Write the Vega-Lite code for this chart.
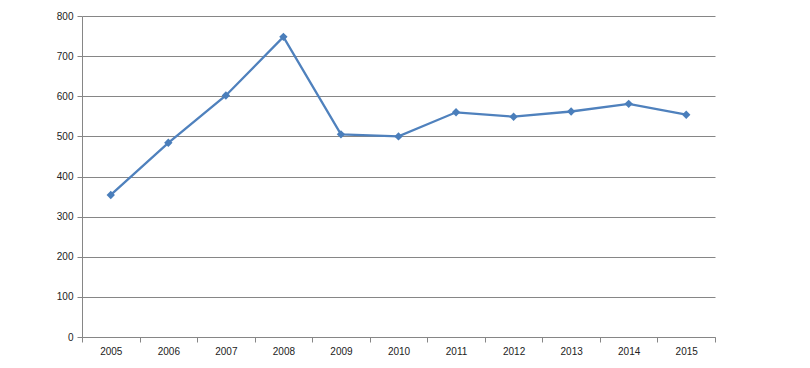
{
  "$schema": "https://vega.github.io/schema/vega-lite/v6.json",
  "width": 633,
  "height": 321,
  "autosize": {"type": "none"},
  "padding": {"left": 82, "top": 16, "right": 95, "bottom": 31},
  "background": "white",
  "config": {"view": {"stroke": null}, "font": "Liberation Sans"},
  "data": {"values": [
    {"year": "2005", "value": 354},
    {"year": "2006", "value": 484},
    {"year": "2007", "value": 602},
    {"year": "2008", "value": 748},
    {"year": "2009", "value": 505},
    {"year": "2010", "value": 500},
    {"year": "2011", "value": 560},
    {"year": "2012", "value": 549},
    {"year": "2013", "value": 562},
    {"year": "2014", "value": 581},
    {"year": "2015", "value": 554}
  ]},
  "encoding": {
    "x": {"field": "year", "type": "ordinal", "title": null,
      "scale": {"paddingInner": 0, "paddingOuter": 0},
      "axis": {"labelAngle": 0, "tickBand": "extent", "grid": false, "domainColor": "#868686", "tickColor": "#868686", "tickSize": 5, "labelFontSize": 10, "labelColor": "#222222", "labelPadding": 4}},
    "y": {"field": "value", "type": "quantitative", "title": null,
      "scale": {"domain": [0, 800], "nice": false},
      "axis": {"values": [0,100,200,300,400,500,600,700,800], "gridColor": "#868686", "gridWidth": 1, "domainColor": "#868686", "tickColor": "#868686", "tickSize": 5, "labelFontSize": 10, "labelColor": "#222222", "labelPadding": 4}}
  },
  "layer": [
    {"mark": {"type": "line", "color": "#4F81BD", "strokeWidth": 2.3}},
    {"mark": {"type": "point", "shape": "diamond", "filled": true, "color": "#4A7EBB", "size": 70, "opacity": 1}}
  ]
}
